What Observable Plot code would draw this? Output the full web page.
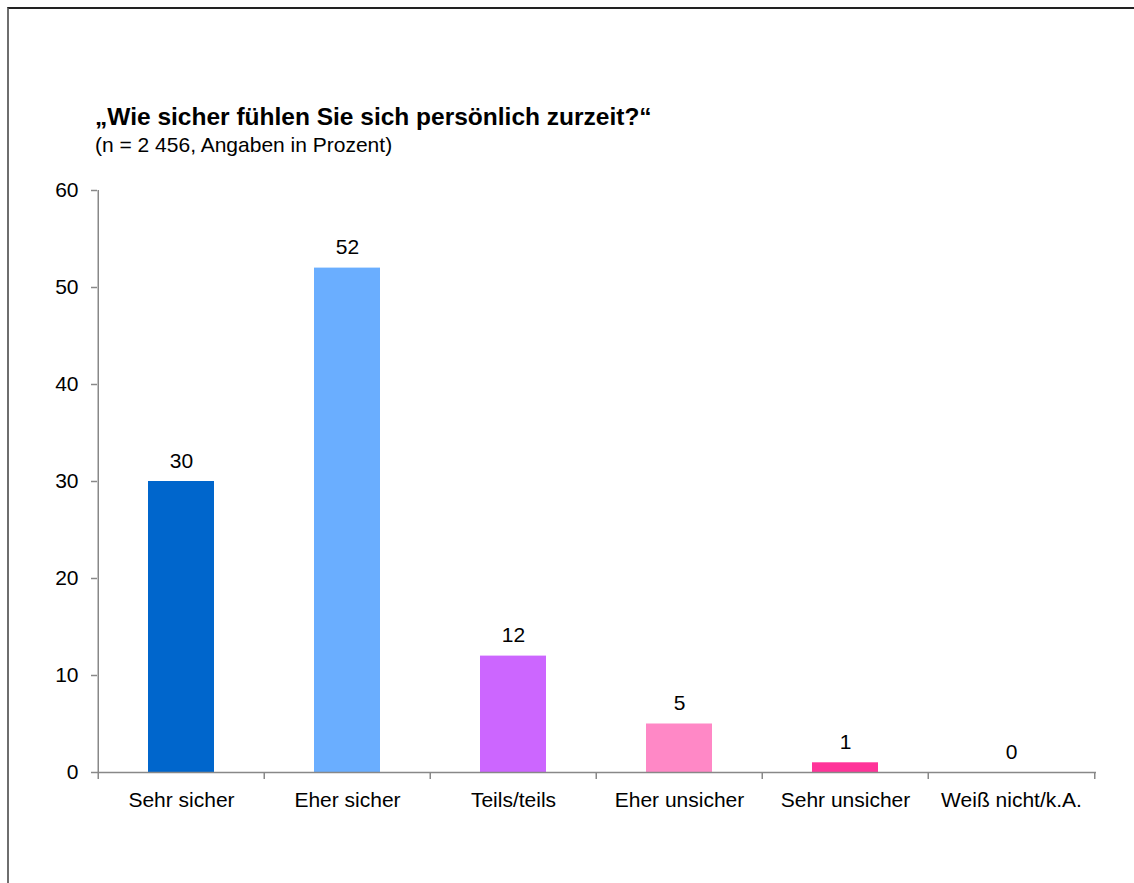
<!DOCTYPE html>
<html>
<head>
<meta charset="utf-8">
<script src="https://cdn.jsdelivr.net/npm/d3@7"></script>
<script src="https://cdn.jsdelivr.net/npm/@observablehq/plot@0.6"></script>
<style>
  html, body { margin: 0; padding: 0; background: #fff; }
  body { width: 1134px; height: 883px; position: relative; overflow: hidden; font-family: "Liberation Sans", Arial, sans-serif; color: #000; }
  #frame { position: absolute; left: 7px; top: 7px; right: -4px; bottom: -4px; border-top: 2px solid #222; border-left: 2px solid #6e6e6e; }
  #title { position: absolute; left: 95px; top: 105px; font-size: 24.5px; line-height: 24.5px; font-weight: bold; white-space: nowrap; }
  #subtitle { position: absolute; left: 95px; top: 134px; font-size: 21px; line-height: 21px; white-space: nowrap; }
  #chart { position: absolute; left: 0; top: 160px; }
</style>
</head>
<body>
<div id="frame"></div>
<div id="title">„Wie sicher fühlen Sie sich persönlich zurzeit?“</div>
<div id="subtitle">(n = 2 456, Angaben in Prozent)</div>
<div id="chart"></div>
<script>
const categories = ["Sehr sicher", "Eher sicher", "Teils/teils", "Eher unsicher", "Sehr unsicher", "Weiß nicht/k.A."];
const values = [30, 52, 12, 5, 1, 0];
const barColors = ["#0066CC", "#6AAEFF", "#CC66FF", "#FF88C6", "#FF3399", "#999999"];
const yTicks = [0, 10, 20, 30, 40, 50, 60];

const data = categories.map((c, i) => ({category: c, value: values[i], color: barColors[i]}));

const width = 1134, height = 700;
const marginLeft = 97, marginRight = 38, marginTop = 30, marginBottom = 88;
const step = (width - marginLeft - marginRight) / categories.length;
const axisColor = "#888";

const plot = Plot.plot({
  width, height, marginLeft, marginRight, marginTop, marginBottom,
  style: {fontFamily: "'Liberation Sans', Arial, sans-serif", background: "transparent", color: "#000"},
  x: {domain: categories, paddingInner: 0.6, paddingOuter: 0.3, axis: null},
  y: {domain: [0, 60], axis: null},
  marks: [
    Plot.barY(data, {x: "category", y: "value", fill: "color"}),
    Plot.text(data, {x: "category", y: "value", text: d => String(d.value), dy: -14, lineAnchor: "bottom", fontSize: 21, fill: "#000"}),
    Plot.ruleY([0], {stroke: axisColor, strokeWidth: 1.5}),
    Plot.ruleX([categories[0]], {x: d => d, y1: 0, y2: 60, dx: -step / 2, stroke: axisColor, strokeWidth: 1.5}),
    Plot.ruleX(categories, {x: d => d, y1: 0, y2: 0, dx: -step / 2, insetBottom: -7, stroke: axisColor, strokeWidth: 1.5}),
    Plot.ruleX([categories[categories.length - 1]], {x: d => d, y1: 0, y2: 0, dx: step / 2, insetBottom: -7, stroke: axisColor, strokeWidth: 1.5}),
    Plot.axisY({ticks: yTicks, tickSize: 6, tickPadding: 13, stroke: axisColor, strokeWidth: 1.5, fill: "#000", fontSize: 21, label: null, tickFormat: d => String(d)}),
    Plot.axisX({tickSize: 0, tickPadding: 20, fill: "#000", fontSize: 21, label: null})
  ]
});
document.getElementById("chart").appendChild(plot);
</script>
</body>
</html>
